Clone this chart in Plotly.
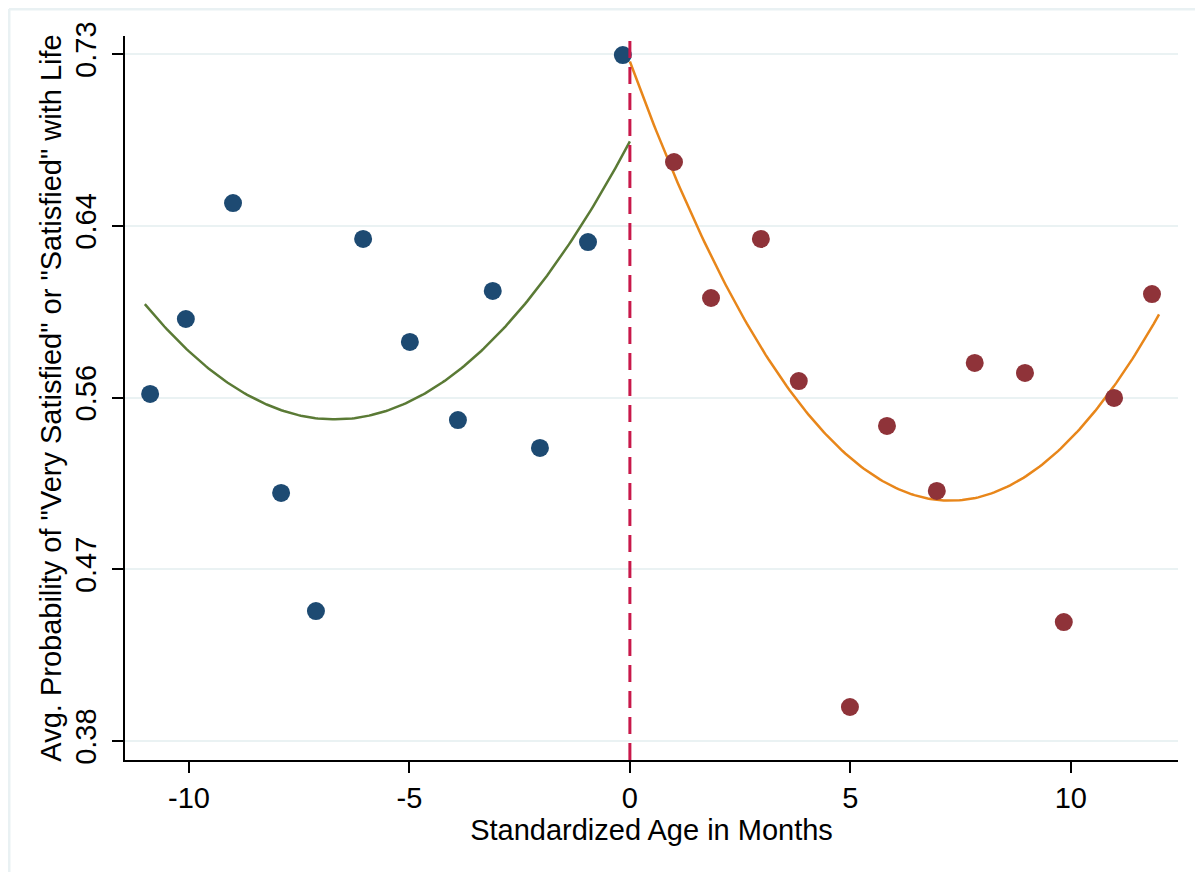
import numpy as np
import plotly.graph_objects as go

# Data
left_x = [-10.88, -10.07, -9.00, -7.91, -7.12, -6.05, -4.99, -3.90, -3.11, -2.04, -0.95, -0.16]
left_y = [0.5568, 0.5950, 0.6541, 0.5064, 0.4462, 0.6358, 0.5833, 0.5435, 0.6093, 0.5293, 0.6342, 0.7295]
right_x = [1.00, 1.84, 2.97, 3.83, 4.99, 5.83, 6.96, 7.82, 8.96, 9.84, 10.98, 11.84]
right_y = [0.6750, 0.6057, 0.6358, 0.5634, 0.3973, 0.5405, 0.5074, 0.5726, 0.5675, 0.4406, 0.5548, 0.6077]

y_tickvals = [0.38, 0.4675, 0.555, 0.6425, 0.73]
y_ticktext = ["0.38", "0.47", "0.56", "0.64", "0.73"]
x_tickvals = [-10, -5, 0, 5, 10]
x_ticktext = ["-10", "-5", "0", "5", "10"]

# Quadratic fits (as in the reference's fitted curves)
cl = np.polyfit(left_x, left_y, 2)
cr = np.polyfit(right_x, right_y, 2)
fx_l = np.linspace(-11, 0, 200)
fx_r = np.linspace(0, 12, 200)

FONT = "Liberation Sans, Arial, Helvetica, sans-serif"
FS = 29

W, H = 1203, 872
ML, MR, MT, MB = 117, 33, 28, 120
PW, PH = W - ML - MR, H - MT - MB

fig = go.Figure()
fig.add_trace(go.Scatter(x=fx_l, y=np.polyval(cl, fx_l), mode="lines",
                         line=dict(color="#5a7a35", width=2.5), showlegend=False))
fig.add_trace(go.Scatter(x=fx_r, y=np.polyval(cr, fx_r), mode="lines",
                         line=dict(color="#e8861a", width=2.5), showlegend=False))
fig.add_trace(go.Scatter(x=left_x, y=left_y, mode="markers",
                         marker=dict(color="#1d4a72", size=18), showlegend=False))
fig.add_trace(go.Scatter(x=right_x, y=right_y, mode="markers",
                         marker=dict(color="#8f3339", size=18), showlegend=False))

fig.add_vline(x=0, line=dict(color="#c8184a", width=3, dash="17px,9px"))

# light frame lines at left and top of the image
fx0 = (1 - ML) / PW
fy1 = 1 + (MT - 1) / PH
fig.add_shape(type="line", xref="paper", yref="paper", x0=fx0, x1=fx0, y0=-MB / PH, y1=fy1,
              line=dict(color="#e9f1f3", width=3), layer="below")
fig.add_shape(type="line", xref="paper", yref="paper", x0=fx0, x1=1 + MR / PW, y0=fy1, y1=fy1,
              line=dict(color="#e9f1f3", width=3), layer="below")

fig.update_layout(
    width=W, height=H,
    margin=dict(l=ML, r=MR, t=MT, b=MB),
    paper_bgcolor="white", plot_bgcolor="white",
    font=dict(family=FONT, size=FS, color="black"),
    xaxis=dict(range=[-11.45, 12.43], tickvals=x_tickvals, ticktext=x_ticktext, showgrid=False,
               zeroline=False, automargin=False,
               showline=True, linecolor="black", linewidth=1.5, ticks="outside", ticklen=11,
               tickwidth=1.5, tickcolor="black", tickfont=dict(size=FS),
               title=dict(text="Standardized Age in Months", font=dict(size=FS), standoff=4)),
    yaxis=dict(range=[0.3703, 0.7392], tickvals=y_tickvals, ticktext=y_ticktext, tickangle=-90,
               showgrid=True, gridcolor="#eaf2f3", gridwidth=2, zeroline=False, automargin=False,
               showline=True, linecolor="black", linewidth=1.5, ticks="outside", ticklen=11,
               tickwidth=1.5, tickcolor="black", tickfont=dict(size=FS), ticklabelstandoff=5,
               title=dict(text='Avg. Probability of "Very Satisfied" or "Satisfied" with Life',
                          font=dict(size=FS), standoff=0)),
)

fig.write_html("out.html")
